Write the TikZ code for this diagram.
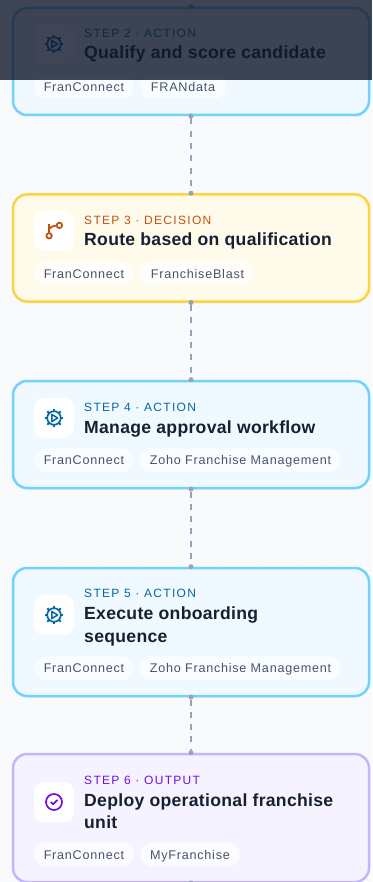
\documentclass[tikz,border=0pt]{standalone}
\usepackage{fontspec}
\setmainfont{Liberation Sans}
\newfontfamily\labelfont[LetterSpace=11]{Liberation Sans}
\newfontfamily\chipfont[LetterSpace=6]{Liberation Sans}
\newfontfamily\titlefont[LetterSpace=1.7]{Liberation Sans}
\usetikzlibrary{shadows,calc}
\definecolor{pagebg}{HTML}{F8FAFC}
\definecolor{bgdot}{HTML}{EEF2F7}
\definecolor{actline}{HTML}{6FD2FF}
\definecolor{actfill}{HTML}{F0F9FF}
\definecolor{actink}{HTML}{0369A1}
\definecolor{decline}{HTML}{FFD23F}
\definecolor{decfill}{HTML}{FFFBEB}
\definecolor{decink}{HTML}{C2500F}
\definecolor{outline}{HTML}{C4B5FD}
\definecolor{outfill}{HTML}{F5F3FF}
\definecolor{outink}{HTML}{7010E0}
\definecolor{titleink}{HTML}{172033}
\definecolor{chipink}{HTML}{475569}
\definecolor{linkink}{HTML}{94A3B8}
\definecolor{veil}{HTML}{0F172A}
\tikzset{
 x=1pt,y=-1pt,
 cardbox/.style={rounded corners=14pt,line width=2.5pt,minimum width=356pt,anchor=north west,inner sep=0pt,outer sep=0pt,
   drop shadow={opacity=.10,shadow xshift=0pt,shadow yshift=-1.5pt}},
 actcard/.style={cardbox,draw=actline,fill=actfill},
 deccard/.style={cardbox,draw=decline,fill=decfill},
 outcard/.style={cardbox,draw=outline,fill=outfill},
 iconbox/.style={fill=white,rounded corners=10pt,minimum width=40pt,minimum height=40pt,inner sep=0pt,outer sep=0pt,anchor=north west},
 steplabel/.style={anchor=base west,inner sep=0pt,font=\labelfont\fontsize{12}{14}\selectfont},
 titletext/.style={anchor=base west,inner sep=0pt,text=titleink,font=\titlefont\bfseries\fontsize{17.6}{22}\selectfont},
 chip/.style={fill=white,fill opacity=.72,text opacity=1,text=chipink,rounded corners=11.5pt,minimum height=23.5pt,inner sep=0pt,outer sep=0pt,anchor=west,
   text height=11pt,text depth=2pt,font=\chipfont\fontsize{12.6}{14}\selectfont},
 portdot/.style={circle,fill=linkink,minimum size=5pt,inner sep=0pt,outer sep=0pt},
 link/.style={draw=linkink,line width=2.4pt,dash pattern=on 6pt off 6.3pt},
 gearicon/.pic={
   \draw[actink,line width=1.7pt] (0,0) circle (6.8);
   \foreach \a in {0,45,...,315}{\draw[actink,line width=2pt] (\a:6.4) -- (\a:9.4);}
   \draw[actink,line width=1.5pt,line join=round] (-2.2,-3.6) -- (3.6,0) -- (-2.2,3.6) -- cycle;
 },
 branchicon/.pic={
   \draw[decink,line width=1.8pt] (-4.9,4.8) circle (2.7) (5.4,-5.6) circle (2.7);
   \draw[decink,line width=1.8pt] (-4.9,2.2) -- (-4.9,-7.4);
   \draw[decink,line width=1.8pt] (-4.9,-2) .. controls (-3.8,-4) and (-1.3,-5) .. (2.7,-5.4);
 },
 checkicon/.pic={
   \draw[outink,line width=1.7pt] (0,0) circle (8);
   \draw[outink,line width=1.7pt,line cap=round,line join=round] (-3,0.2) -- (-0.8,2.2) -- (3.2,-1.8);
 }
}
\begin{document}
\begin{tikzpicture}
\useasboundingbox (0,0) rectangle (372,882);
\fill[pagebg] (0,0) rectangle (372,882);
\foreach \i in {0,...,18}{\foreach \j in {0,...,44}{
  \fill[bgdot] (20*\i,6+20*\j) circle (1);
}}
% cards
\node[actcard,minimum height=107pt] (c2) at (13,8) {};
\node[deccard,minimum height=107pt] (c3) at (13,194.5) {};
\node[actcard,minimum height=107pt] (c4) at (13,381) {};
\node[actcard,minimum height=128pt] (c5) at (13,568) {};
\node[outcard,minimum height=128pt] (c6) at (13,754) {};
% port dots
\foreach \n in {c2,c3,c4,c5,c6}{
  \node[portdot] (\n t) at ($(\n.north)+(0,-1.3)$) {};
  \node[portdot] (\n b) at ($(\n.south)+(0,1)$) {};
}
% connectors
\foreach \u/\v in {c2/c3,c3/c4,c4/c5,c5/c6}{\path[link] (\u b) -- (\v t);}
% step 2
\node[iconbox] (i2) at (34,24) {};
\pic at (i2.center) {gearicon};
\node[steplabel,text=actink] (l2) at (84,37.5) {STEP 2 · ACTION};
\node[titletext] (t2) at (84,59) {Qualify and score candidate};
\node[chip,minimum width=100pt] (a2) at (34,87) {FranConnect};
\node[chip,minimum width=86pt] (b2) at (140,87) {FRANdata};
% step 3
\node[iconbox] (i3) at (34,211) {};
\pic at (i3.center) {branchicon};
\node[steplabel,text=decink] (l3) at (84,224.5) {STEP 3 · DECISION};
\node[titletext] (t3) at (84,246) {Route based on qualification};
\node[chip,minimum width=100pt] (a3) at (34,273.5) {FranConnect};
\node[chip,minimum width=115pt] (b3) at (140,273.5) {FranchiseBlast};
% step 4
\node[iconbox] (i4) at (34,398) {};
\pic at (i4.center) {gearicon};
\node[steplabel,text=actink] (l4) at (84,411) {STEP 4 · ACTION};
\node[titletext] (t4) at (84,433) {Manage approval workflow};
\node[chip,minimum width=100pt] (a4) at (34,460) {FranConnect};
\node[chip,minimum width=201pt] (b4) at (140,460) {Zoho Franchise Management};
% step 5
\node[iconbox] (i5) at (34,595) {};
\pic at (i5.center) {gearicon};
\node[steplabel,text=actink] (l5) at (84,597.5) {STEP 5 · ACTION};
\node[titletext] (t5) at (84,619) {Execute onboarding};
\node[titletext] (u5) at (84,642) {sequence};
\node[chip,minimum width=100pt] (a5) at (34,668) {FranConnect};
\node[chip,minimum width=201pt] (b5) at (140,668) {Zoho Franchise Management};
% step 6
\node[iconbox] (i6) at (34,782) {};
\pic at (i6.center) {checkicon};
\node[steplabel,text=outink] (l6) at (84,784.5) {STEP 6 · OUTPUT};
\node[titletext] (t6) at (84,806) {Deploy operational franchise};
\node[titletext] (u6) at (84,828) {unit};
\node[chip,minimum width=100pt] (a6) at (34,854.5) {FranConnect};
\node[chip,minimum width=100pt] (b6) at (140,854.5) {MyFranchise};
% top veil
\fill[veil,opacity=.8] (0,0) rectangle (372,80);
\end{tikzpicture}
\end{document}
